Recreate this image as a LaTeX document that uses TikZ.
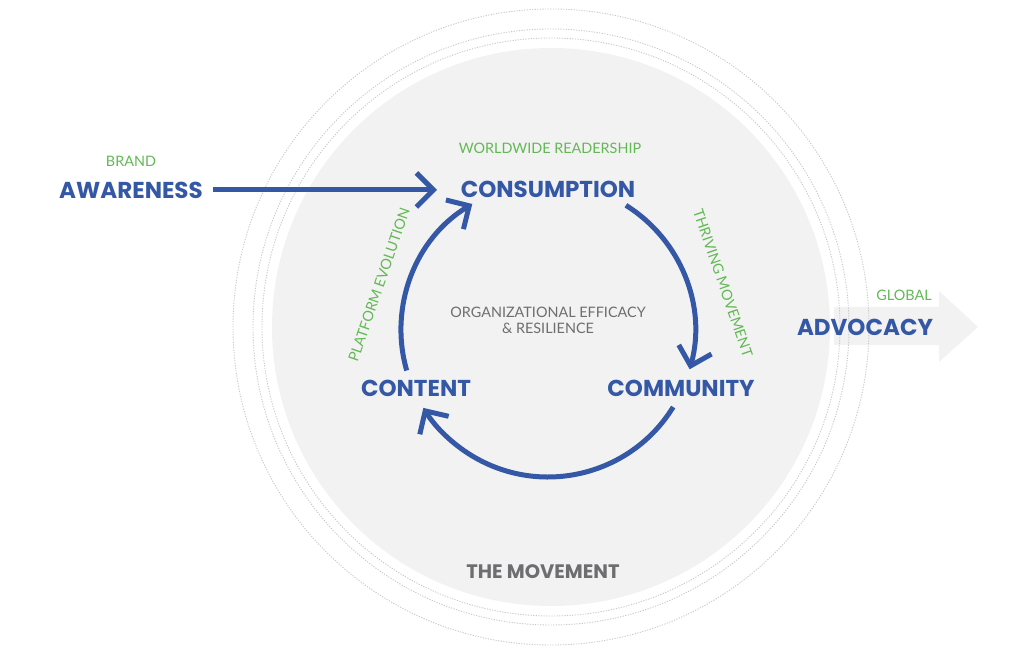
\documentclass[tikz,border=0pt]{standalone}
\usepackage{fontspec}
\setmainfont{Lato}
\newfontfamily\mont{Poppins}
\usetikzlibrary{arrows.meta}
\definecolor{cblue}{RGB}{52,88,165}
\definecolor{cgreen}{RGB}{98,184,84}
\definecolor{cgraytxt}{RGB}{110,110,112}
\definecolor{cfill}{RGB}{242,242,242}
\definecolor{cdot}{RGB}{200,200,200}
\tikzset{
  big/.style={font=\mont\bfseries\fontsize{23}{25}\selectfont, text=cblue, inner sep=0pt},
  small/.style={font=\fontsize{14.4}{16}\selectfont, text=cgreen, inner sep=0pt},
  mid/.style={font=\fontsize{14.4}{16}\selectfont, text=cgraytxt, inner sep=0pt, align=center},
  flow/.style={draw=cblue, line width=5pt, -{Straight Barb[length=17pt, width=34pt, line width=5pt]}},
  dotc/.style={draw=cdot, line width=0.9pt, dash pattern=on 1.2pt off 1.4pt},
}
\begin{document}
\begin{tikzpicture}[x=1pt,y=1pt]
\useasboundingbox (0,0) rectangle (1024,660);
% advocacy arrow
\fill[cfill] (834,315) -- (939,315) -- (939,298) -- (978,333) -- (939,369) -- (939,353) -- (834,353) -- cycle;
% movement circle
\coordinate (m) at (551,333);
\fill[cfill] (m) circle (279);
\draw[dotc] (m) circle (289);
\draw[dotc] (m) circle (298);
\draw[dotc] (m) circle (318);
% texts
\node[big] (aw) at (131,470) {AWARENESS};
\node[small] (br) at (131,499) {BRAND};
\node[big] (cons) at (548,471) {CONSUMPTION};
\node[small] (ww) at (550,512) {WORLDWIDE READERSHIP};
\node[big] (comm) at (681,272) {COMMUNITY};
\node[big] (cont) at (416,272) {CONTENT};
\node[big] (adv) at (865,333) {ADVOCACY};
\node[small] (gl) at (904,365) {GLOBAL};
\node[mid] (org) at (548,340) {ORGANIZATIONAL EFFICACY\\[0pt] \& RESILIENCE};
\node[font=\mont\bfseries\fontsize{19.5}{21}\selectfont, text=cgraytxt, inner sep=0pt] (mov) at (543,88) {THE MOVEMENT};
\node[small, rotate=-71] (thr) at (723,377) {THRIVING MOVEMENT};
\node[small, rotate=71] (plat) at (379,375) {PLATFORM EVOLUTION};
% cycle
\coordinate (c) at (548,330);
\coordinate (awend) at (437,470);
\draw[flow] (aw.east) ++(10,0) -- (awend);
\draw[flow] (c) ++(58:147) arc (58:-15.5:147);
\draw[flow] (c) ++(-31.6:147) arc (-31.6:-148:147);
\draw[flow] (c) ++(196:147) arc (196:121:147);
\end{tikzpicture}
\end{document}
